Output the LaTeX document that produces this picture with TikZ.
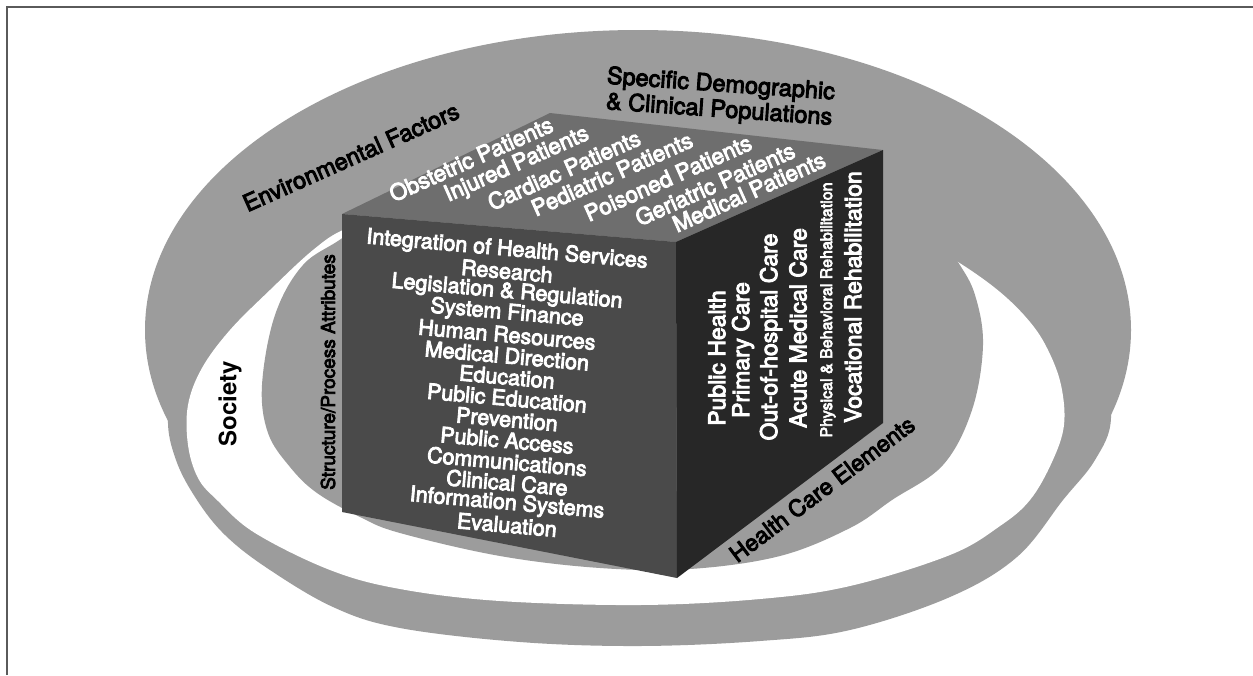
\documentclass[tikz,border=0pt]{standalone}
\usepackage{fontspec}
\setmainfont{TeX Gyre Heros}
\newfontfamily\heavy{TeX Gyre Heros}[FakeBold=4]
\definecolor{ringgray}{HTML}{9C9C9C}
\definecolor{topface}{HTML}{6E6E6E}
\definecolor{frontface}{HTML}{4A4A4A}
\definecolor{rightface}{HTML}{272727}
\definecolor{framec}{HTML}{5A5A5A}
\begin{document}
\begin{tikzpicture}[x=1pt,y=-1pt,
  lbl/.style={text=black, inner sep=0pt, font=\heavy\fontsize{23.5}{25.5}\selectfont},
  toptxt/.style={text=white, inner sep=0pt, rotate=24, font=\heavy\fontsize{22.5}{24}\selectfont},
  fronttxt/.style={text=white, inner sep=0pt, rotate=-5, font=\heavy\fontsize{21.5}{22}\selectfont},
  sidetxt/.style={text=white, inner sep=0pt, rotate=90, font=\heavy\fontsize{23}{24}\selectfont},
]
\useasboundingbox (0,0) rectangle (1253,675);
\fill[white] (0,0) rectangle (1253,675);
\draw[framec, line width=2pt] (7,675) -- (7,7) -- (1253,7);

% upper big ellipse
\fill[ringgray] (638,330) ellipse [x radius=493pt, y radius=300pt];
% lower ring outer
\fill[ringgray] plot[smooth cycle, tension=0.6] coordinates {
 (168,415) (176,460) (197,500) (225,535) (267,568) (333,607) (400,628) (520,642)
 (640,646) (760,641) (850,630) (950,597) (1017,557) (1063,500) (1095,460) (1111,418)
 (1100,350) (1040,250) (900,150) (640,110) (380,150) (240,250) (180,340)};
% white interior (society)
\fill[white] plot[smooth cycle, tension=0.6] coordinates {
 (217,500) (255,533) (330,570) (400,589) (500,601) (640,605) (760,599) (850,586)
 (950,555) (1000,526) (1030,500) (1052,462) (1064,425) (1061,385) (1048,350)
 (1030,322) (1000,292) (958,262) (905,232) (800,200) (650,185) (500,195) (400,210)
 (345,229) (313,250) (270,290) (230,330) (202,368) (188,405) (188,445) (198,478)};
% inner disk
\fill[ringgray] plot[smooth cycle, tension=0.6] coordinates {
 (262,385) (268,433) (290,467) (317,493) (360,517) (400,533) (500,556) (600,568)
 (690,569) (780,556) (850,528) (892,500) (943,465) (972,410) (983,345) (975,295)
 (958,262) (930,222) (880,190) (800,165) (650,150) (500,160) (400,190) (345,236)
 (303,265) (275,315)};

% cube
\coordinate (tl) at (342,214);
\coordinate (tb) at (550,113);
\coordinate (tr) at (883,150);
\coordinate (tf) at (676,242);
\coordinate (bl) at (342,512);
\coordinate (bf) at (677,578);
\coordinate (br) at (883,423);
\fill[topface] (tl) -- (tb) -- (tr) -- (tf) -- cycle;
\fill[frontface] (tl) -- (tf) -- (bf) -- (bl) -- cycle;
\fill[rightface] (tf) -- (tr) -- (br) -- (bf) -- cycle;

% top face texts
\node[toptxt] (p1) at (471,159) {Obstetric Patients};
\node[toptxt] (p2) at (517,165) {Injured Patients};
\node[toptxt] (p3) at (564,170) {Cardiac Patients};
\node[toptxt] (p4) at (612,174) {Pediatric Patients};
\node[toptxt] (p5) at (668,178) {Poisoned Patients};
\node[toptxt] (p6) at (715,184) {Geriatric Patients};
\node[toptxt] (p7) at (749,192) {Medical Patients};

% front face texts
\foreach \t [count=\i from 0] in {Integration of Health Services, Research,
  Legislation \& Regulation, System Finance, Human Resources, Medical Direction,
  Education, Public Education, Prevention, Public Access, Communications,
  Clinical Care, Information Systems, Evaluation}
  \node[fronttxt] (f\i) at (507,{250+21.15*\i}) {\t};

% right face texts
\node[sidetxt] (s1) at (717,358) {Public Health};
\node[sidetxt] (s2) at (743,350) {Primary Care};
\node[sidetxt] (s3) at (771,337) {Out-of-hospital Care};
\node[sidetxt] (s4) at (798,328) {Acute Medical Care};
\node[sidetxt, font=\heavy\fontsize{16}{17}\selectfont] (s5) at (828,310) {Physical \& Behavioral Rehabilitation};
\node[sidetxt] (s6) at (853,297) {Vocational Rehabilitation};

% outer labels
\node[lbl, rotate=24] (env) at (351,157) {Environmental Factors};
\node[lbl, rotate=-4, align=center] (spec) at (720,98) {Specific Demographic\\\& Clinical Populations};
\node[lbl, rotate=37, font=\heavy\fontsize{23}{25}\selectfont] (hce) at (822,489) {Health Care Elements};
\node[lbl, rotate=90, font=\heavy\fontsize{19}{20}\selectfont] (spa) at (328,372) {Structure/Process Attributes};
\node[lbl, rotate=90, font=\bfseries\fontsize{24}{26}\selectfont] (soc) at (230,404) {Society};
\end{tikzpicture}
\end{document}
